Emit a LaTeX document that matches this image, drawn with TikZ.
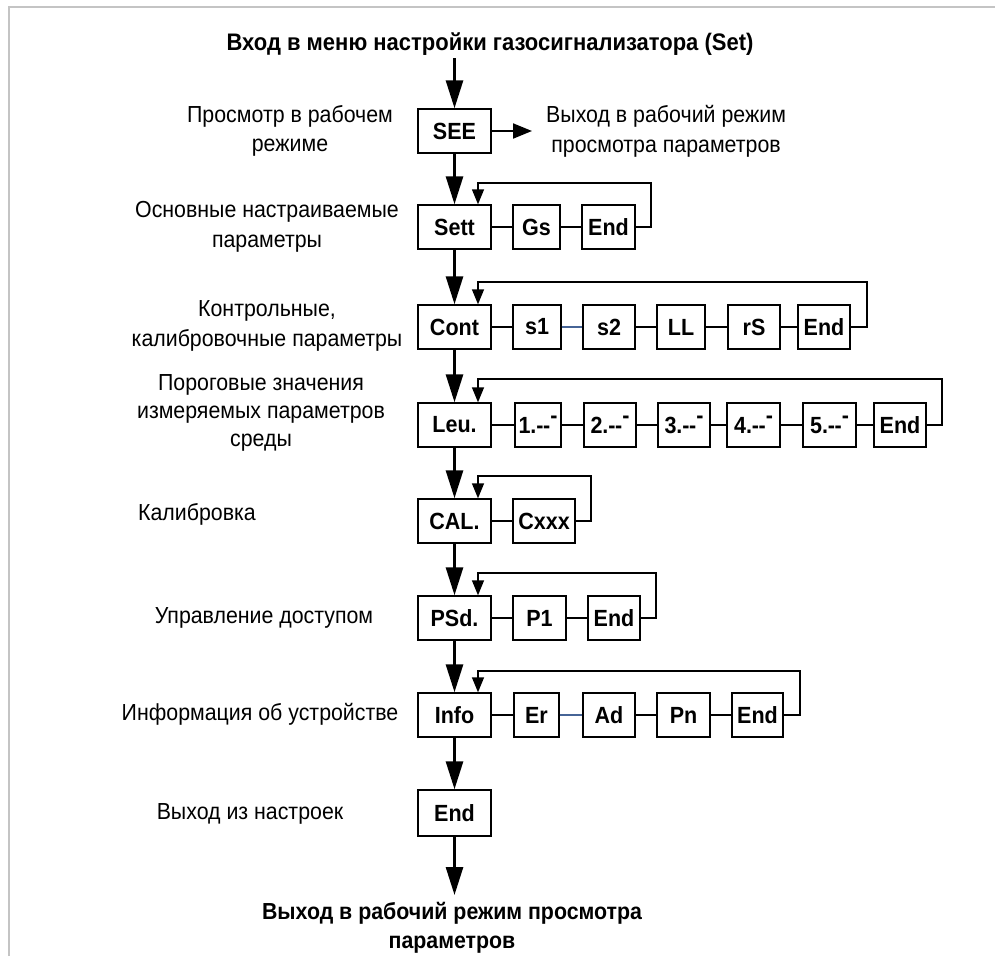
\documentclass[tikz,border=0pt]{standalone}
\usepackage{fontspec}
\setmainfont{Liberation Sans}[FakeStretch=0.92]
\usetikzlibrary{arrows.meta,calc}
\definecolor{framegray}{RGB}{196,196,196}
\definecolor{linkblue}{RGB}{70,100,150}
\newcommand\lvl[1]{#1.{-}\kern-0.5pt{-}\raisebox{0.42em}{-}}
\begin{document}
\begin{tikzpicture}[x=1pt,y=-1pt,
  box/.style={draw,line width=1.4pt,minimum height=44pt,inner sep=0pt,
    font=\fontsize{23.4}{26}\selectfont\bfseries},
  mainbox/.style={box,minimum width=73pt},
  lbl/.style={align=center,inner sep=0pt,font=\fontsize{23.2}{29.5}\selectfont},
  flow/.style={line width=2.8pt,-{Triangle[length=28pt,width=17pt]}},
  sideflow/.style={line width=2pt,-{Triangle[length=19pt,width=15pt]}},
  link/.style={line width=2pt},
  bluelink/.style={line width=1.4pt,draw=linkblue},
  back/.style={line width=1.4pt,-{Triangle[length=15pt,width=12pt]}},
]
\useasboundingbox (0,0) rectangle (995,956);
\draw[line width=2.6pt,draw=framegray] (9,956) -- (9,7) -- (995,7);

% title
\node[inner sep=0pt,font=\fontsize{23.9}{26}\selectfont\bfseries] (title) at (490,44)
  {Вход в меню настройки газосигнализатора (Set)};

% main column
\node[mainbox] (see)  at (454.5,131) {SEE};
\node[mainbox] (sett) at (454.5,227) {Sett};
\node[mainbox] (cont) at (454.5,327) {Cont};
\node[mainbox] (leu)  at (454.5,425) {Leu.};
\node[mainbox] (cal)  at (454.5,521) {CAL.};
\node[mainbox] (psd)  at (454.5,618) {PSd.};
\node[mainbox] (info) at (454.5,715) {Info};
\node[mainbox,minimum height=46pt] (endb) at (454.5,813) {End};

% left labels
\node[lbl] (lsee)  at (290,131) {Просмотр в рабочем\\режиме};
\node[lbl] (lsett) at (267,227) {Основные настраиваемые\\параметры};
\node[lbl] (lcont) at (267,326) {Контрольные,\\калибровочные параметры};
\node[lbl,font=\fontsize{23.2}{28}\selectfont] (lleu)  at (261,413) {Пороговые значения\\измеряемых параметров\\среды};
\node[lbl] (lcal)  at (197,514) {Калибровка};
\node[lbl] (lpsd)  at (264,618) {Управление доступом};
\node[lbl] (linfo) at (260,714) {Информация об устройстве};
\node[lbl] (lend)  at (250,814) {Выход из настроек};

% SEE exit
\node[lbl,anchor=west,font=\fontsize{23.2}{30}\selectfont] (seeout) at (546,131)
  {Выход в рабочий режим\\просмотра параметров};
\coordinate (seeend) at (532,131);
\draw[sideflow] (see) -- (seeend);

% Sett row
\node[box,minimum width=47pt] (gs)    at (536.5,227) {Gs};
\node[box,minimum width=53pt] (sette) at (608.5,227) {End};
% Cont row
\node[box,minimum width=48pt] (s1)    at (537,327) {s1};
\node[box,minimum width=52pt] (s2)    at (609,327) {s2};
\node[box,minimum width=48pt] (ll)    at (681,327) {LL};
\node[box,minimum width=52pt] (rs)    at (754,327) {rS};
\node[box,minimum width=52pt] (conte) at (824,327) {End};
% Leu row
\node[box,minimum width=46pt] (l1) at (538,425) {\lvl{1}};
\node[box,minimum width=52pt] (l2) at (610,425) {\lvl{2}};
\node[box,minimum width=52pt] (l3) at (684,425) {\lvl{3}};
\node[box,minimum width=53pt] (l4) at (753.5,425) {\lvl{4}};
\node[box,minimum width=53pt] (l5) at (829.5,425) {\lvl{5}};
\node[box,minimum width=52pt] (leue) at (900,425) {End};
% CAL row
\node[box,minimum width=62pt] (cxxx) at (544,521) {Cxxx};
% PSd row
\node[box,minimum width=53pt] (p1)   at (539.5,618) {P1};
\node[box,minimum width=52pt] (psde) at (614,618) {End};
% Info row
\node[box,minimum width=45pt] (er)    at (536.5,715) {Er};
\node[box,minimum width=52pt] (ad)    at (609,715) {Ad};
\node[box,minimum width=53pt] (pn)    at (683.5,715) {Pn};
\node[box,minimum width=51pt] (infoe) at (757.5,715) {End};

% bottom text
\node[align=center,inner sep=0pt,font=\fontsize{23.2}{29}\selectfont\bfseries] (out) at (452,928)
  {Выход в рабочий режим просмотра\\параметров};

% main flow
\coordinate (flowstart) at (454.5,58);
\draw[flow] (flowstart) -- (see);
\draw[flow] (see) -- (sett);
\draw[flow] (sett) -- (cont);
\draw[flow] (cont) -- (leu);
\draw[flow] (leu) -- (cal);
\draw[flow] (cal) -- (psd);
\draw[flow] (psd) -- (info);
\draw[flow] (info) -- (endb);
\coordinate (flowend) at (454.5,895);
\draw[flow] (endb) -- (flowend);

% links
\draw[link] (sett) -- (gs); \draw[link] (gs) -- (sette);
\draw[link] (cont) -- (s1); \draw[bluelink] (s1) -- (s2); \draw[link] (s2) -- (ll);
\draw[link] (ll) -- (rs); \draw[link] (rs) -- (conte);
\draw[link] (leu) -- (l1); \draw[link] (l1) -- (l2); \draw[link] (l2) -- (l3);
\draw[link] (l3) -- (l4); \draw[link] (l4) -- (l5); \draw[link] (l5) -- (leue);
\draw[link] (cal) -- (cxxx);
\draw[link] (psd) -- (p1); \draw[link] (p1) -- (psde);
\draw[link] (info) -- (er); \draw[bluelink] (er) -- (ad); \draw[link] (ad) -- (pn);
\draw[link] (pn) -- (infoe);

% loops back
\coordinate (rsett) at (651,183); \coordinate (lsettc) at (478,183);
\draw[back] (sette.east) -| (rsett) -- (lsettc) -- (lsettc |- sett.north);
\coordinate (rcont) at (867,282); \coordinate (lcontc) at (478,282);
\draw[back] (conte.east) -| (rcont) -- (lcontc) -- (lcontc |- cont.north);
\coordinate (rleu) at (942,379); \coordinate (lleuc) at (478,379);
\draw[back] (leue.east) -| (rleu) -- (lleuc) -- (lleuc |- leu.north);
\coordinate (rcal) at (591,476); \coordinate (lcalc) at (478,476);
\draw[back] (cxxx.east) -| (rcal) -- (lcalc) -- (lcalc |- cal.north);
\coordinate (rpsd) at (656,573); \coordinate (lpsdc) at (478,573);
\draw[back] (psde.east) -| (rpsd) -- (lpsdc) -- (lpsdc |- psd.north);
\coordinate (rinfo) at (800,671); \coordinate (linfoc) at (478,671);
\draw[back] (infoe.east) -| (rinfo) -- (linfoc) -- (linfoc |- info.north);
\end{tikzpicture}
\end{document}
